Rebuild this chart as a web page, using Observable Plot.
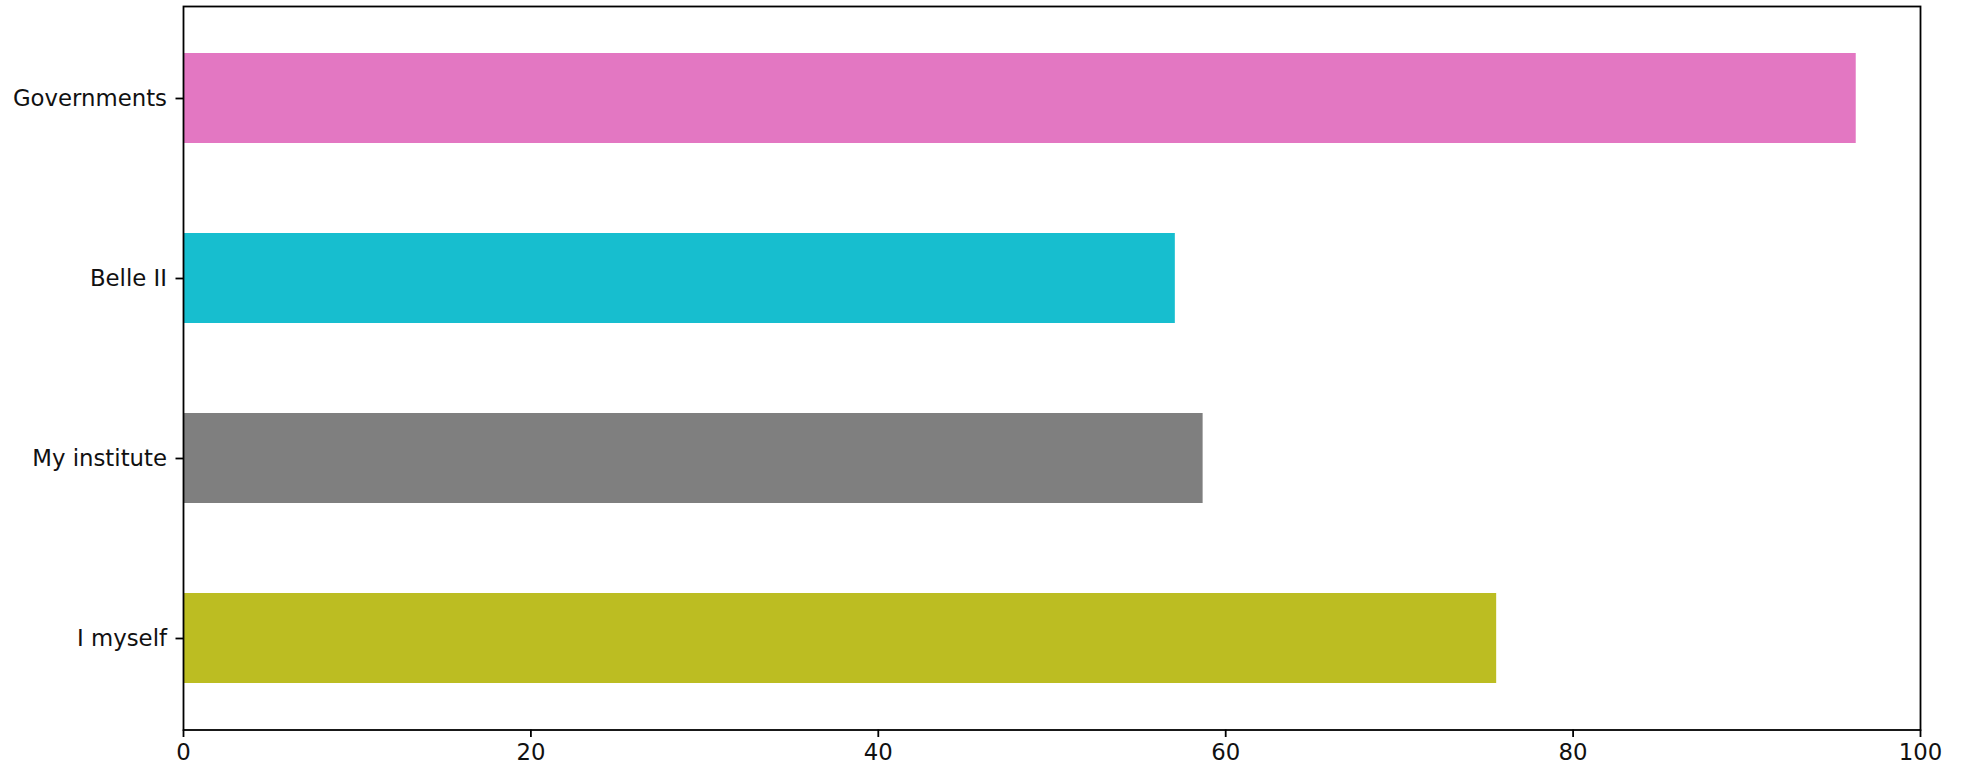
<!DOCTYPE html>
<html>
<head>
<meta charset="utf-8">
<script src="https://cdn.jsdelivr.net/npm/d3@7"></script>
<script src="https://cdn.jsdelivr.net/npm/@observablehq/plot@0.6"></script>
<style>
  html, body { margin: 0; padding: 0; background: white; }
  #chart svg { display: block; }
</style>
</head>
<body>
<div id="chart"></div>
<script>
const categories = ["Governments", "Belle II", "My institute", "I myself"];
const values = [96.3, 57.1, 58.7, 75.6];
const barColors = ["#e377c2", "#17becf", "#7f7f7f", "#bcbd22"];
const xTicks = [0, 20, 40, 60, 80, 100];

const data = categories.map((c, i) => ({category: c, value: values[i]}));

const chart = Plot.plot({
  width: 1964,
  height: 769,
  marginLeft: 183,
  marginRight: 44,
  marginTop: 6,
  marginBottom: 39.5,
  style: {
    fontFamily: "DejaVu Sans",
    fontSize: "22.8px",
    background: "white",
    color: "#111"
  },
  x: {domain: [0, 100]},
  y: {domain: categories, paddingInner: 0.5, paddingOuter: 0.25},
  color: {domain: categories, range: barColors},
  marks: [
    Plot.barX(data, {y: "category", x: "value", fill: "category"}),
    Plot.frame({stroke: "black", strokeWidth: 1.8}),
    Plot.axisX({ticks: xTicks, tickSize: 7.5, tickPadding: 6, label: null, stroke: "black", strokeWidth: 1.8, tickFormat: d3.format("d"), fontVariant: "normal"}),
    Plot.axisY({tickSize: 7.5, tickPadding: 9, label: null, stroke: "black", strokeWidth: 1.8})
  ]
});
document.getElementById("chart").appendChild(chart);
</script>
</body>
</html>
